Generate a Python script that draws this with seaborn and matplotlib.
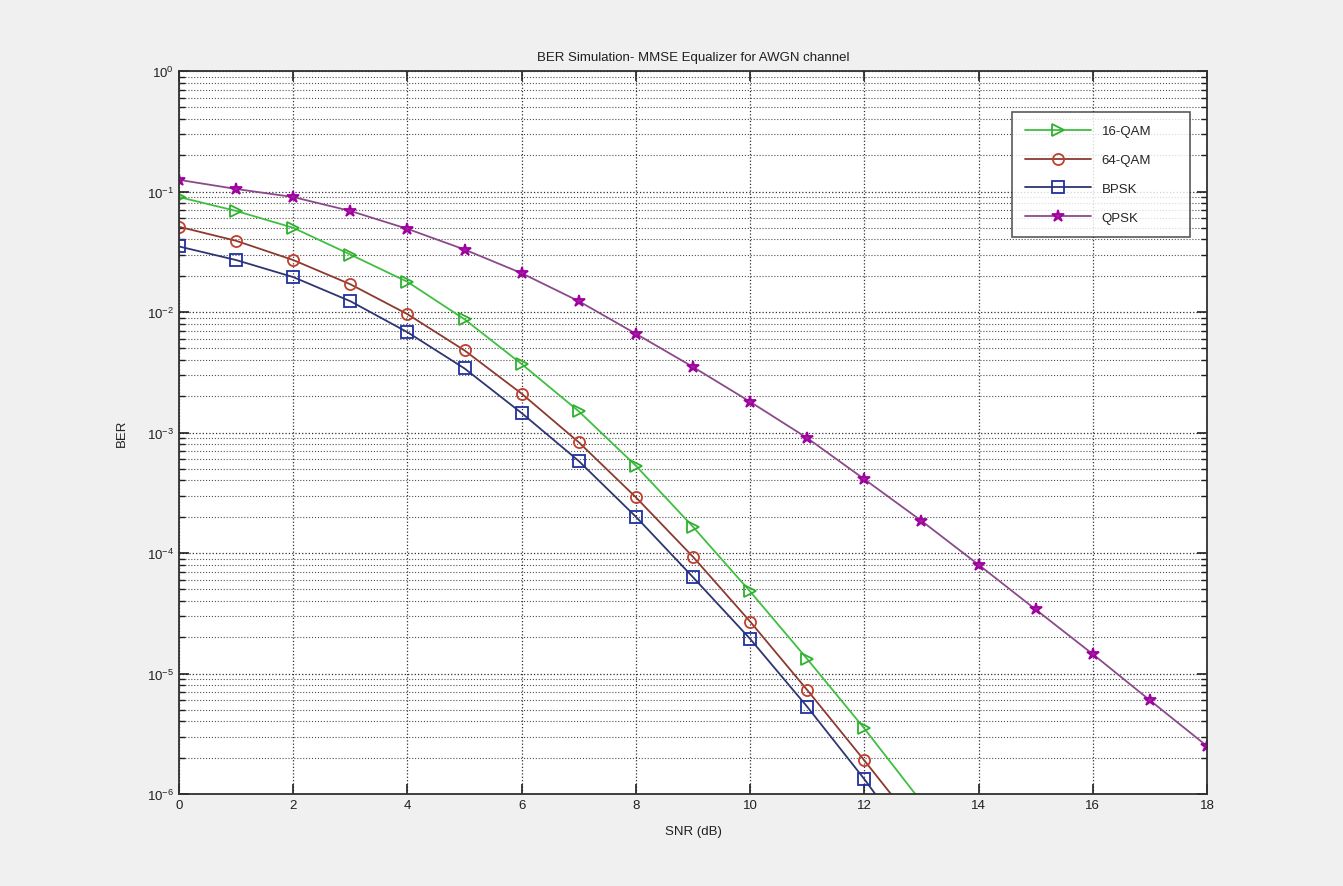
import numpy as np
import pandas as pd
import matplotlib
matplotlib.use("Agg")
import matplotlib.pyplot as plt
import matplotlib.ticker as mticker
import seaborn as sns

snr = [0, 1, 2, 3, 4, 5, 6, 7, 8, 9, 10, 11, 12, 13]
snr_qpsk = [0, 1, 2, 3, 4, 5, 6, 7, 8, 9, 10, 11, 12, 13, 14, 15, 16, 17, 18]

ber_16qam = [0.090, 0.069, 0.050, 0.030, 0.0178, 0.0087, 0.0037, 0.0015,
             5.3e-4, 1.65e-4, 4.8e-5, 1.32e-5, 3.5e-6, 8.6e-7]
ber_64qam = [0.051, 0.039, 0.027, 0.017, 0.0096, 0.0048, 0.0021, 8.3e-4,
             2.9e-4, 9.3e-5, 2.7e-5, 7.3e-6, 1.9e-6, 4.8e-7]
ber_bpsk = [0.035, 0.027, 0.0195, 0.0123, 0.0068, 0.0034, 0.00145, 5.8e-4,
            2.0e-4, 6.3e-5, 1.94e-5, 5.3e-6, 1.33e-6, 3.0e-7]
ber_qpsk = [0.125, 0.105, 0.090, 0.069, 0.049, 0.033, 0.021, 0.0123, 0.0066,
            0.0035, 0.0018, 9.0e-4, 4.1e-4, 1.85e-4, 8.0e-5, 3.4e-5, 1.45e-5,
            6.0e-6, 2.5e-6]

labels = ["16-QAM", "64-QAM", "BPSK", "QPSK"]
title = "BER Simulation- MMSE Equalizer for AWGN channel"
xlabel = "SNR (dB)"
ylabel = "BER"
x_ticks = [0, 2, 4, 6, 8, 10, 12, 14, 16, 18]
y_decades = [-6, -5, -4, -3, -2, -1, 0]

sns.set_theme(style="white")
plt.rcParams["font.family"] = ["Liberation Sans", "DejaVu Sans"]
plt.rcParams["mathtext.fontset"] = "custom"
plt.rcParams["mathtext.rm"] = "Liberation Sans"
plt.rcParams["mathtext.it"] = "Liberation Sans"

fig = plt.figure(figsize=(13.43, 8.87), dpi=100, facecolor="#f0f0f0")
ax = fig.add_axes([0.1333, 0.1037, 0.7654, 0.8151])
ax.set_facecolor("white")

series = [
    (snr, ber_16qam, labels[0], dict(color="#3fbf3f", marker=">", mec="#2fb02f", mfc="none", ms=9)),
    (snr, ber_64qam, labels[1], dict(color="#8c3a30", marker="o", mec="#c04030", mfc="none", ms=8)),
    (snr, ber_bpsk, labels[2], dict(color="#2e3570", marker="s", mec="#2030a0", mfc="none", ms=8)),
    (snr_qpsk, ber_qpsk, labels[3], dict(color="#8a4a8a", marker="*", mec="#a000a0", mfc="#a020a0", ms=9)),
]

for xs, ys, lab, st in series:
    df = pd.DataFrame({"x": xs, "y": ys})
    sns.lineplot(data=df, x="x", y="y", ax=ax, label=lab, color=st["color"],
                 marker=st["marker"], markersize=st["ms"], markeredgecolor=st["mec"],
                 markerfacecolor=st["mfc"], markeredgewidth=1.3, linewidth=1.3)

ax.set_yscale("log")
ax.set_xlim(0, 18)
ax.set_ylim(1e-6, 1)
ax.set_xticks(x_ticks)
ax.yaxis.set_major_locator(mticker.FixedLocator([10.0 ** d for d in y_decades]))
minor = [m * 10.0 ** d for d in y_decades[:-1] for m in range(2, 10)]
ax.yaxis.set_minor_locator(mticker.FixedLocator(minor))
ax.yaxis.set_minor_formatter(mticker.NullFormatter())
ax.yaxis.set_major_formatter(mticker.FuncFormatter(lambda v, p: r"$10^{%d}$" % int(round(np.log10(v)))))

ax.grid(True, which="major", linestyle=":", color="#303030", linewidth=0.9)
ax.grid(True, which="minor", axis="y", linestyle=":", color="#505050", linewidth=0.8)

ax.tick_params(which="both", direction="in", top=True, right=True, bottom=True, left=True,
               labelsize=9.5, colors="#202020")
ax.tick_params(which="major", length=7, width=1.2)
ax.tick_params(which="minor", length=4, width=1.0)
for s in ax.spines.values():
    s.set_color("#303030")
    s.set_linewidth(1.3)

ax.set_title(title, fontsize=9.5, pad=8, color="#202020")
ax.set_xlabel(xlabel, fontsize=9.5, labelpad=10, color="#202020")
ax.set_ylabel(ylabel, fontsize=9.5, labelpad=14, color="#202020")

leg = ax.legend(loc="upper left", bbox_to_anchor=(0.8103, 0.0, 0.1732, 0.9433), mode="expand",
                fontsize=9.5, fancybox=False, frameon=True, edgecolor="#303030",
                handlelength=5.0, handletextpad=0.8, borderpad=1.0, labelspacing=1.25,
                borderaxespad=0)
leg.get_frame().set_linewidth(1.2)
leg.get_frame().set_facecolor("white")

fig.savefig("out.png", dpi=100, facecolor=fig.get_facecolor())
